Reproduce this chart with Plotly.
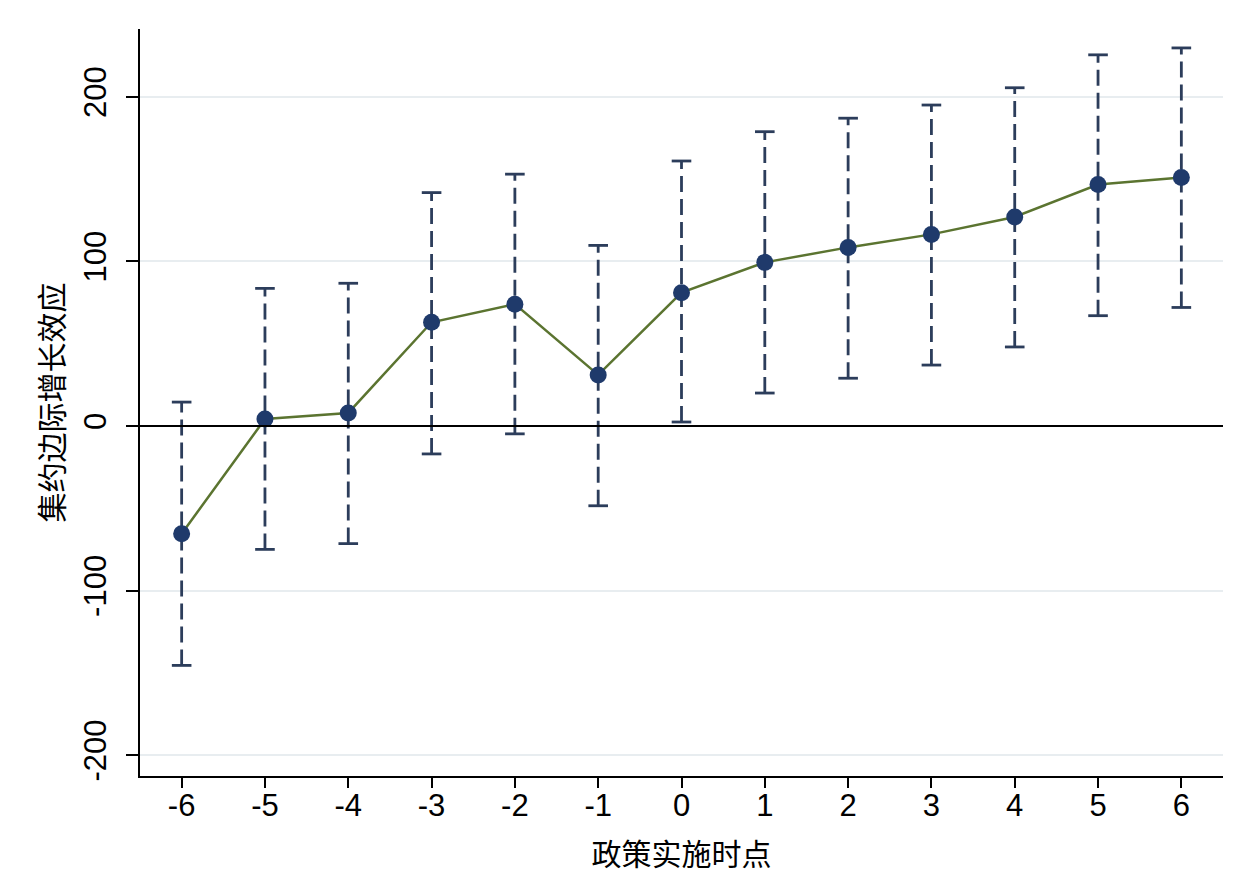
import plotly.graph_objects as go

# event time relative to policy, point estimates and 95% CI
periods = [-6, -5, -4, -3, -2, -1, 0, 1, 2, 3, 4, 5, 6]
period_labels = ["-6", "-5", "-4", "-3", "-2", "-1", "0", "1", "2", "3", "4", "5", "6"]
coef = [-65.5, 4.2, 7.9, 63.0, 74.0, 31.0, 81.0, 99.4, 108.5, 116.4, 127.0, 146.7, 151.0]
ci_hi = [14.5, 83.6, 86.7, 141.8, 153.0, 109.7, 161.0, 178.8, 187.0, 195.0, 205.5, 225.5, 229.7]
ci_lo = [-145.5, -75.0, -71.5, -17.0, -4.8, -48.5, 2.4, 20.0, 29.0, 37.0, 48.0, 67.0, 72.0]

y_ticks = [-200, -100, 0, 100, 200]
y_labels = ["-200", "-100", "0", "100", "200"]

bar_color = "#2c3d5b"
dot_color = "#1f3a6b"
line_color = "#5b7430"

# dashed vertical CI segments
seg_x, seg_y = [], []
for p, lo, hi in zip(periods, ci_lo, ci_hi):
    seg_x += [p, p, None]
    seg_y += [lo, hi, None]

fig = go.Figure()
fig.add_trace(go.Scatter(
    x=seg_x, y=seg_y, mode="lines",
    line=dict(color=bar_color, width=2.8, dash="16px,7px"),
    hoverinfo="skip", showlegend=False))
# caps
fig.add_trace(go.Scatter(
    x=periods + periods, y=ci_hi + ci_lo, mode="markers",
    marker=dict(symbol="line-ew", size=14, line=dict(color=bar_color, width=2.8)),
    hoverinfo="skip", showlegend=False))
fig.add_trace(go.Scatter(
    x=periods, y=coef, mode="lines+markers",
    line=dict(color=line_color, width=2.5),
    marker=dict(color=dot_color, size=17),
    showlegend=False))

fig.add_hline(y=0, line=dict(color="black", width=2))

# page body has an 8px margin, so the figure is sized to fit the window
fig.update_layout(
    width=1237, height=870,
    margin=dict(l=132, r=22, t=21, b=100),
    plot_bgcolor="white", paper_bgcolor="white",
    font=dict(family="Liberation Sans, Arial", size=31, color="black"),
)
fig.update_xaxes(
    range=[-6.5, 6.5], tickvals=periods, ticktext=period_labels,
    ticks="outside", ticklen=10, tickwidth=1.8, tickcolor="black",
    ticklabelstandoff=-9,
    showline=True, linecolor="black", linewidth=1.8,
    showgrid=False, zeroline=False,
    title=dict(text="政策实施时点", font=dict(family="Noto Sans CJK SC", size=30), standoff=22),
)
fig.update_yaxes(
    range=[-212.7, 241.2], tickvals=y_ticks, ticktext=y_labels, tickangle=-90,
    ticks="outside", ticklen=12, tickwidth=1.8, tickcolor="black",
    ticklabelstandoff=8,
    showline=True, linecolor="black", linewidth=1.8,
    gridcolor="#e8edf0", gridwidth=1.5, zeroline=False,
    title=dict(text="集约边际增长效应", font=dict(family="Noto Sans CJK SC", size=30), standoff=5),
)

fig.write_html("out.html")
